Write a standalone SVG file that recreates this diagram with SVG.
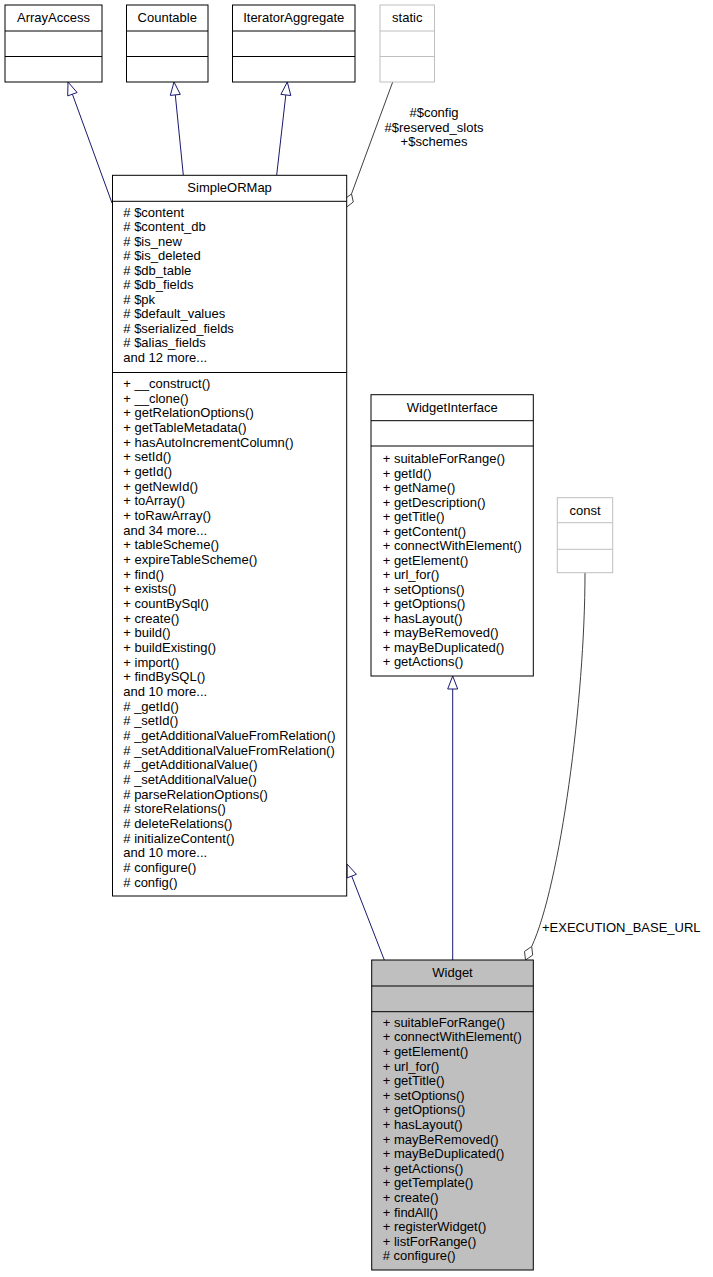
<svg xmlns="http://www.w3.org/2000/svg" width="713" height="1277" viewBox="0 0 713 1277">
<style>
text{font-family:"Liberation Sans",Arial,Helvetica,sans-serif;font-size:13px;fill:#000}
.c{text-anchor:middle}
.box{fill:#fff;stroke:#000;stroke-width:1}
.ext{fill:#fff;stroke:#bfbfbf;stroke-width:1}
.cur{fill:#bfbfbf;stroke:#000;stroke-width:1}
.inh{fill:none;stroke:#191970;stroke-width:1}
.tri{fill:#fff;stroke:#191970;stroke-width:1}
.use{fill:none;stroke:#404040;stroke-width:1}
.dia{fill:#fff;stroke:#404040;stroke-width:1}
</style>
<rect width="713" height="1277" fill="#fff"/>
<g id="connectors">
<path class="inh" d="M112,203 L72.4,94.2"/>
<polygon class="tri" points="68,82 77.1,92.5 67.7,95.9"/>
<path class="inh" d="M183.3,175 L175.3,94.9"/>
<polygon class="tri" points="174,82 180.3,94.4 170.3,95.4"/>
<path class="inh" d="M276.7,175 L285.8,94.9"/>
<polygon class="tri" points="287.3,82 290.8,95.5 280.9,94.4"/>
<path class="use" d="M392.7,82 L351.5,193.9"/>
<polygon class="dia" points="346.7,207 344.9,198.9 351.5,193.9 353.3,202"/>
<text class="c" x="434" y="117">#$config</text>
<text class="c" x="434" y="131.5">#$reserved_slots</text>
<text class="c" x="434" y="146">+$schemes</text>
<path class="inh" d="M384.3,960 L351.7,876.1"/>
<polygon class="tri" points="347,864 356.4,874.3 347.1,877.9"/>
<path class="inh" d="M452.7,960 L452.7,689"/>
<polygon class="tri" points="452.7,676 457.7,689 447.7,689"/>
<path class="use" d="M585,573 C585,700 560,885 531.7,946.5"/>
<polygon class="dia" points="525.5,960 524.5,951.4 531.7,946.5 532.7,955.1"/>
<text x="542" y="931.5">+EXECUTION_BASE_URL</text>
</g>
<g id="ArrayAccess">
<rect class="box" x="5" y="5" width="97" height="77"/>
<path class="box" d="M5,31H102M5,56.5H102"/>
<text class="c" x="53.5" y="22">ArrayAccess</text>
</g>
<g id="Countable">
<rect class="box" x="126.5" y="5" width="81.5" height="77"/>
<path class="box" d="M126.5,31H208M126.5,56.5H208"/>
<text class="c" x="167.25" y="22">Countable</text>
</g>
<g id="IteratorAggregate">
<rect class="box" x="232.5" y="5" width="122.5" height="77"/>
<path class="box" d="M232.5,31H355M232.5,56.5H355"/>
<text class="c" x="293.75" y="22">IteratorAggregate</text>
</g>
<g id="static">
<rect class="ext" x="380" y="5" width="54.5" height="77"/>
<path class="ext" d="M380,31H434.5M380,56.5H434.5"/>
<text class="c" x="407.25" y="22">static</text>
</g>
<g id="SimpleORMap">
<rect class="box" x="112.5" y="175.3" width="234.2" height="720.7"/>
<path class="box" d="M112.5,201.3H346.7M112.5,372.5H346.7"/>
<text class="c" x="229.6" y="192">SimpleORMap</text>
<text x="123.3" y="216.5"><tspan x="123.3"># $content</tspan><tspan x="123.3" dy="14.5"># $content_db</tspan><tspan x="123.3" dy="14.5"># $is_new</tspan><tspan x="123.3" dy="14.5"># $is_deleted</tspan><tspan x="123.3" dy="14.5"># $db_table</tspan><tspan x="123.3" dy="14.5"># $db_fields</tspan><tspan x="123.3" dy="14.5"># $pk</tspan><tspan x="123.3" dy="14.5"># $default_values</tspan><tspan x="123.3" dy="14.5"># $serialized_fields</tspan><tspan x="123.3" dy="14.5"># $alias_fields</tspan><tspan x="123.3" dy="14.5">and 12 more...</tspan></text>
<text x="123.3" y="388"><tspan x="123.3">+ __construct()</tspan><tspan x="123.3" dy="14.67">+ __clone()</tspan><tspan x="123.3" dy="14.67">+ getRelationOptions()</tspan><tspan x="123.3" dy="14.67">+ getTableMetadata()</tspan><tspan x="123.3" dy="14.67">+ hasAutoIncrementColumn()</tspan><tspan x="123.3" dy="14.67">+ setId()</tspan><tspan x="123.3" dy="14.67">+ getId()</tspan><tspan x="123.3" dy="14.67">+ getNewId()</tspan><tspan x="123.3" dy="14.67">+ toArray()</tspan><tspan x="123.3" dy="14.67">+ toRawArray()</tspan><tspan x="123.3" dy="14.67">and 34 more...</tspan><tspan x="123.3" dy="14.67">+ tableScheme()</tspan><tspan x="123.3" dy="14.67">+ expireTableScheme()</tspan><tspan x="123.3" dy="14.67">+ find()</tspan><tspan x="123.3" dy="14.67">+ exists()</tspan><tspan x="123.3" dy="14.67">+ countBySql()</tspan><tspan x="123.3" dy="14.67">+ create()</tspan><tspan x="123.3" dy="14.67">+ build()</tspan><tspan x="123.3" dy="14.67">+ buildExisting()</tspan><tspan x="123.3" dy="14.67">+ import()</tspan><tspan x="123.3" dy="14.67">+ findBySQL()</tspan><tspan x="123.3" dy="14.67">and 10 more...</tspan><tspan x="123.3" dy="14.67"># _getId()</tspan><tspan x="123.3" dy="14.67"># _setId()</tspan><tspan x="123.3" dy="14.67"># _getAdditionalValueFromRelation()</tspan><tspan x="123.3" dy="14.67"># _setAdditionalValueFromRelation()</tspan><tspan x="123.3" dy="14.67"># _getAdditionalValue()</tspan><tspan x="123.3" dy="14.67"># _setAdditionalValue()</tspan><tspan x="123.3" dy="14.67"># parseRelationOptions()</tspan><tspan x="123.3" dy="14.67"># storeRelations()</tspan><tspan x="123.3" dy="14.67"># deleteRelations()</tspan><tspan x="123.3" dy="14.67"># initializeContent()</tspan><tspan x="123.3" dy="14.67">and 10 more...</tspan><tspan x="123.3" dy="14.67"># configure()</tspan><tspan x="123.3" dy="14.67"># config()</tspan></text>
</g>
<g id="WidgetInterface">
<rect class="box" x="371" y="394.7" width="162.3" height="281.3"/>
<path class="box" d="M371,420.7H533.3M371,446H533.3"/>
<text class="c" x="452.2" y="412">WidgetInterface</text>
<text x="382.7" y="463.3"><tspan x="382.7">+ suitableForRange()</tspan><tspan x="382.7" dy="14.5">+ getId()</tspan><tspan x="382.7" dy="14.5">+ getName()</tspan><tspan x="382.7" dy="14.5">+ getDescription()</tspan><tspan x="382.7" dy="14.5">+ getTitle()</tspan><tspan x="382.7" dy="14.5">+ getContent()</tspan><tspan x="382.7" dy="14.5">+ connectWithElement()</tspan><tspan x="382.7" dy="14.5">+ getElement()</tspan><tspan x="382.7" dy="14.5">+ url_for()</tspan><tspan x="382.7" dy="14.5">+ setOptions()</tspan><tspan x="382.7" dy="14.5">+ getOptions()</tspan><tspan x="382.7" dy="14.5">+ hasLayout()</tspan><tspan x="382.7" dy="14.5">+ mayBeRemoved()</tspan><tspan x="382.7" dy="14.5">+ mayBeDuplicated()</tspan><tspan x="382.7" dy="14.5">+ getActions()</tspan></text>
</g>
<g id="const">
<rect class="ext" x="557.3" y="497.7" width="55.4" height="75"/>
<path class="ext" d="M557.3,522.7H612.7M557.3,549.3H612.7"/>
<text class="c" x="585" y="514.5">const</text>
</g>
<g id="Widget">
<rect class="cur" x="371.7" y="960" width="161.6" height="310"/>
<path class="cur" d="M371.7,986H533.3M371.7,1011.7H533.3"/>
<text class="c" x="452.5" y="977">Widget</text>
<text x="382.7" y="1026.7"><tspan x="382.7">+ suitableForRange()</tspan><tspan x="382.7" dy="14.6">+ connectWithElement()</tspan><tspan x="382.7" dy="14.6">+ getElement()</tspan><tspan x="382.7" dy="14.6">+ url_for()</tspan><tspan x="382.7" dy="14.6">+ getTitle()</tspan><tspan x="382.7" dy="14.6">+ setOptions()</tspan><tspan x="382.7" dy="14.6">+ getOptions()</tspan><tspan x="382.7" dy="14.6">+ hasLayout()</tspan><tspan x="382.7" dy="14.6">+ mayBeRemoved()</tspan><tspan x="382.7" dy="14.6">+ mayBeDuplicated()</tspan><tspan x="382.7" dy="14.6">+ getActions()</tspan><tspan x="382.7" dy="14.6">+ getTemplate()</tspan><tspan x="382.7" dy="14.6">+ create()</tspan><tspan x="382.7" dy="14.6">+ findAll()</tspan><tspan x="382.7" dy="14.6">+ registerWidget()</tspan><tspan x="382.7" dy="14.6">+ listForRange()</tspan><tspan x="382.7" dy="14.6"># configure()</tspan></text>
</g>
</svg>
